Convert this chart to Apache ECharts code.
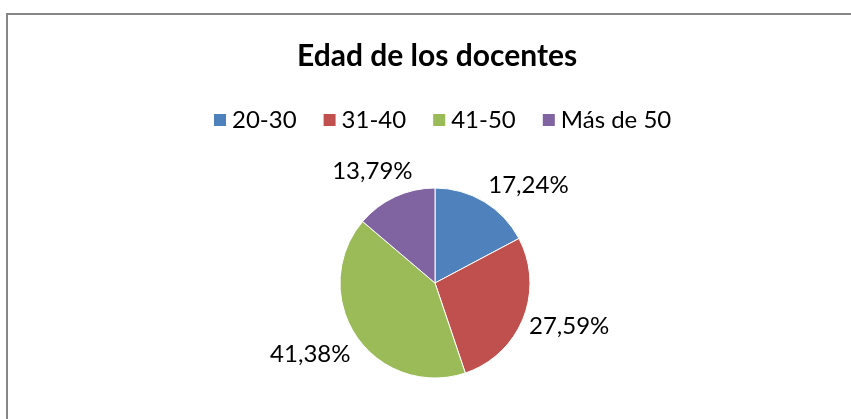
<!DOCTYPE html>
<html>
<head>
<meta charset="utf-8">
<script src="https://cdn.jsdelivr.net/npm/echarts@6/dist/echarts.min.js"></script>
<style>
    html, body { margin: 0; padding: 0; background: #fff; overflow: hidden; }
    #frame { position: absolute; left: 6px; top: 13px; width: 900px; height: 500px; border: 2px solid #878787; }
    #main { position: absolute; left: 0; top: 0; width: 851px; height: 419px; }
</style>
</head>
<body>
<div id="frame"></div>
<div id="main"></div>
<script>
    // datos del grafico
    var categorias = ['20-30', '31-40', '41-50', 'Más de 50'];
    var porcentajes = [17.24, 27.59, 41.38, 13.79];
    var colores = ['#4F81BD', '#C0504D', '#9BBB59', '#8064A2'];

    // ajuste fino de las etiquetas (Excel usa "mejor ajuste")
    var ajusteEtiquetas = [[-10, -1], [-16, 1], [14, 8], [30, -9]];

    var chart = echarts.init(document.getElementById('main'));

    var datos = categorias.map(function(c, i) {
        return { name: c, value: porcentajes[i] };
    });

    chart.setOption({
        animation: false,
        color: colores,
        textStyle: { fontFamily: 'Lato' },
        title: {
            text: 'Edad de los docentes',
            left: 292,
            top: 36,
            textStyle: { fontFamily: 'Lato', fontWeight: 'bold', fontSize: 30, color: '#000' }
        },
        legend: {
            top: 103,
            left: 207,
            itemWidth: 14,
            itemHeight: 14,
            itemGap: 25,
            icon: 'rect',
            textStyle: { fontFamily: 'Lato', fontSize: 24, color: '#000' },
            data: categorias
        },
        series: [{
            type: 'pie',
            center: [435, 283],
            radius: 95,
            startAngle: 90,
            clockwise: true,
            itemStyle: { borderColor: '#fff', borderWidth: 1 },
            label: {
                show: true,
                position: 'outside',
                fontFamily: 'Lato',
                fontSize: 24,
                color: '#000',
                formatter: function(p) {
                    return p.value.toFixed(2).replace('.', ',') + '%';
                }
            },
            labelLine: { show: false, length: 18, length2: 0 },
            labelLayout: function(params) {
                var a = ajusteEtiquetas[params.dataIndex];
                return { dx: a[0], dy: a[1] };
            },
            emphasis: { disabled: true },
            data: datos
        }]
    });
</script>
</body>
</html>
